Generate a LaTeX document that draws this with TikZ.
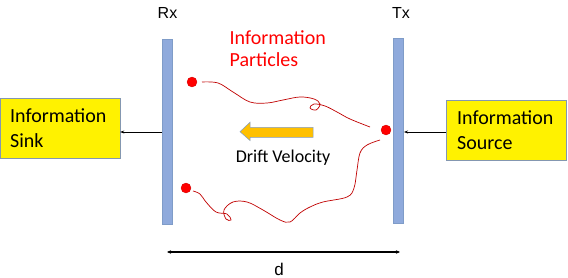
\documentclass[tikz,border=0pt]{standalone}
\usepackage{fontspec}
\setmainfont{Carlito}
\newfontfamily\arialish{Liberation Sans}
\usetikzlibrary{arrows.meta}
\definecolor{barblue}{HTML}{8FAADC}
\definecolor{barline}{HTML}{7F9CC8}
\definecolor{boxline}{HTML}{8497B0}
\definecolor{walk}{HTML}{C00000}
\definecolor{drift}{HTML}{FFC000}
\definecolor{driftline}{HTML}{7F9CC8}
\tikzset{
  bar/.style={draw=barline, fill=barblue, minimum width=10pt, minimum height=185pt, inner sep=0pt},
  infobox/.style={draw=boxline, fill=yellow, minimum width=120pt, minimum height=60pt, inner sep=0pt},
  boxtext/.style={anchor=west, align=left, font=\fontsize{20}{25}\selectfont, inner sep=0pt},
  particle/.style={circle, fill=red, draw=red!80!black, line width=0.3pt, minimum size=10pt, inner sep=0pt},
  feed/.style={-{Stealth[length=4pt,width=3pt]}, line width=0.6pt},
  walkline/.style={walk, line width=0.7pt},
  lbl/.style={font=\arialish\fontsize{16}{19}\selectfont, inner sep=0pt}
}
\begin{document}
\begin{tikzpicture}[x=1pt,y=-1pt]
\useasboundingbox (0,0) rectangle (568,278);
% bars
\node[bar] (rx) at (167,131.5) {};
\node[bar] (tx) at (398.5,130.5) {};
\node[lbl] (rxl) at (167.5,13) {Rx};
\node[lbl] (txl) at (401,12.5) {Tx};
% boxes
\node[infobox] (sink) at (60,128) {};
\node[boxtext] (sinkt) at (10,128) {Information\\Sink};
\node[infobox] (src) at (506.5,130.5) {};
\node[boxtext] (srct) at (457,130.5) {Information\\Source};
% feed arrows
\coordinate (rxa) at (162,132);
\coordinate (txa) at (404,132);
\draw[feed] (rxa) -- (rxa -| sink.east);
\draw[feed] (src.west |- txa) -- (txa);
% particles label
\node[text=red, align=left, anchor=north west, inner sep=0pt, font=\fontsize{20}{22}\selectfont] (pl) at (229.5,30) {Information\\Particles};
% random walks
\draw[walkline] plot[smooth, tension=0.6] coordinates {(202,82) (218,83) (233,92) (250,102) (267,103) (283,100) (300,97) (314,99) (320,104) (316,110) (310,108) (314,104) (325,106) (337,112) (350,119) (370,127)};
\draw[walkline] plot[smooth, tension=0.6] coordinates {(380,140) (367,145) (360,153) (357,170) (354,188) (347,197) (323,202) (310,207) (300,213) (290,222) (280,220) (263,210) (247,202) (233,202) (224,210) (226,219) (231,220) (227,214) (216,212) (206,202) (200,194) (193,191)};
% particles
\node[particle] (p1) at (192,82) {};
\node[particle] (p2) at (386,130) {};
\node[particle] (p3) at (186,188) {};
% drift arrow
\draw[draw=driftline, fill=drift, line width=0.5pt] (313,127.3) -- (250,127.3) -- (250,122.3) -- (240,131.7) -- (250,140.5) -- (250,137.3) -- (313,137.3) -- cycle;
\node[inner sep=0pt, font=\fontsize{18}{21}\selectfont] (dv) at (283,158) {Drift Velocity};
% distance
\coordinate (d1) at (167,252);
\coordinate (d2) at (400,252);
\draw[{Stealth[length=4pt,width=3.5pt]}-{Stealth[length=4pt,width=3.5pt]}, line width=1.2pt] (d1) -- (d2);
\node[lbl, anchor=base, font=\arialish\fontsize{17}{19}\selectfont] (dl) at (279,275.5) {d};
\end{tikzpicture}
\end{document}
